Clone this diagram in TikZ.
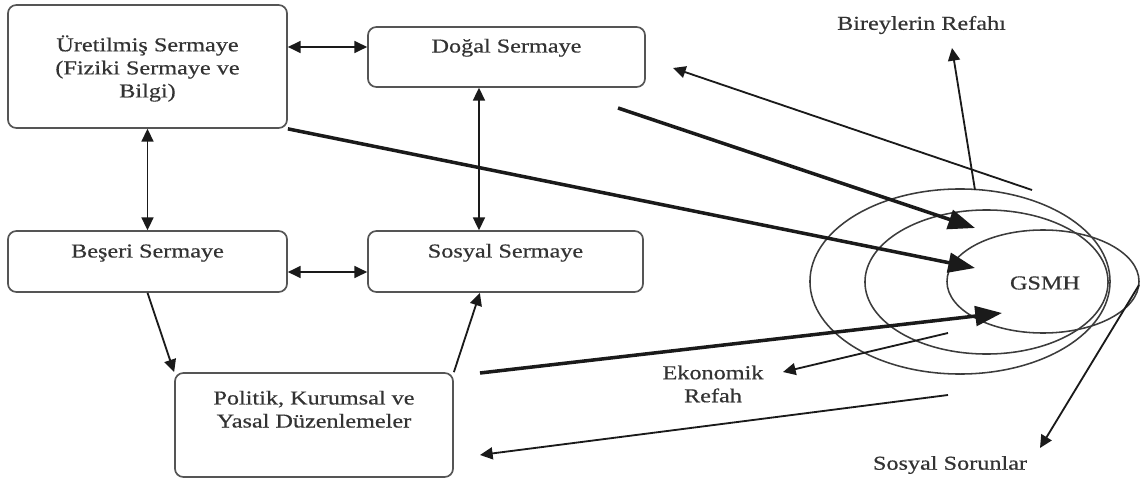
\documentclass[tikz,border=0pt]{standalone}
\usepackage{fontspec}
\setmainfont{Liberation Serif}[FakeStretch=1.23, FakeBold=0.5]
\usetikzlibrary{arrows.meta}

\definecolor{txtgray}{HTML}{333333}
\definecolor{boxgray}{HTML}{555555}
\definecolor{linegray}{HTML}{1A1A1A}
\definecolor{ringgray}{HTML}{3C3C3C}

\tikzset{
  box/.style={draw=boxgray, line width=1.2pt, rounded corners=6pt, inner sep=0pt, align=center},
  lnk/.style={-{Triangle[length=9pt,width=8.5pt]}, line width=1.3pt, draw=linegray},
  both/.style={{Triangle[length=9pt,width=8.5pt]}-{Triangle[length=9pt,width=8.5pt]}, line width=1.3pt, draw=linegray},
  heavy/.style={-{Triangle[length=19pt,width=14pt]}, line width=2.5pt, draw=linegray},
  ring/.style={draw=ringgray, line width=1.1pt}
}

\begin{document}
\begin{tikzpicture}[x=0.025cm, y=-0.025cm, font=\fontsize{14pt}{16.4pt}\selectfont, text=txtgray]
\useasboundingbox (0,0) rectangle (1140,479);

\node[box, text height=44pt, text depth=0pt, minimum width=6.975cm, minimum height=3.075cm] (ure) at (147.5,66.5) {Üretilmiş Sermaye\\(Fiziki Sermaye ve\\Bilgi)};
\node[box, text height=0pt, text depth=6.4pt, minimum width=6.925cm, minimum height=1.5cm] (dog) at (506.5,57) {Doğal Sermaye};
\node[box, text height=0pt, text depth=5.7pt, minimum width=6.975cm, minimum height=1.525cm] (bes) at (147.5,261.5) {Beşeri Sermaye};
\node[box, text height=0pt, text depth=5.7pt, minimum width=6.875cm, minimum height=1.525cm] (sos) at (505.5,261.5) {Sosyal Sermaye};
\node[box, text height=3.6pt, text depth=0pt, minimum width=6.95cm, minimum height=2.6cm] (pol) at (314,425) {Politik, Kurumsal ve\\Yasal Düzenlemeler};

\draw[ring] (960,281.5) ellipse [x radius=3.75cm, y radius=2.3125cm];
\draw[ring] (986.5,282) ellipse [x radius=3.0375cm, y radius=1.8cm];
\draw[ring] (1043,281.5) ellipse [x radius=2.4cm, y radius=1.2875cm];

\node (gsmh) at (1045,283) {GSMH};
\node (bir) at (921.5,25) {Bireylerin Refahı};
\node[align=center] (eko) at (713,384) {Ekonomik\\Refah};
\node (sor) at (950,465) {Sosyal Sorunlar};

\coordinate (t1) at (975,228);
\coordinate (t2) at (975,268);
\coordinate (t3) at (1002,313);
\coordinate (s1) at (618,108);
\coordinate (s3) at (480,373);
\coordinate (r1) at (1032,190);
\coordinate (r2) at (673,68);
\coordinate (b1) at (975,190);
\coordinate (b2) at (952,48);
\coordinate (e1) at (948,333);
\coordinate (e2) at (783,372);
\coordinate (p1) at (948,395);
\coordinate (p2) at (480,455);
\coordinate (q1) at (1139,285);
\coordinate (q2) at (1040,448);

\draw[both] ([yshift=.4875cm]ure.east) -- ([yshift=.25cm]dog.west);
\draw[both] (ure.south) -- (bes.north);
\draw[both] ([xshift=-.6875cm]dog.south) -- ([xshift=-.6625cm]sos.north);
\draw[both] ([yshift=-.2625cm]bes.east) -- ([yshift=-.2625cm]sos.west);
\draw[lnk] (bes.south) -- (pol.north west);
\draw[lnk] (pol.north east) -- ([xshift=-.64cm]sos.south);

\draw[heavy] (ure.south east) -- (t2);
\draw[heavy] (s1) -- (t1);
\draw[heavy] (s3) -- (t3);

\draw[lnk] (r1) -- (r2);
\draw[lnk] (b1) -- (b2);
\draw[lnk] (e1) -- (e2);
\draw[lnk] (p1) -- (p2);
\draw[lnk] (q1) -- (q2);
\end{tikzpicture}
\end{document}
